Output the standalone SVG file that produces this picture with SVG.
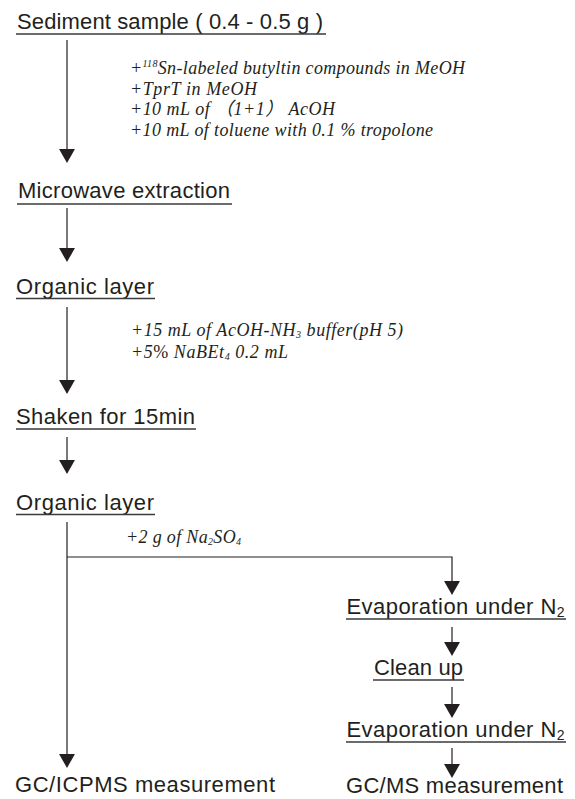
<svg xmlns="http://www.w3.org/2000/svg" width="575" height="799" viewBox="0 0 575 799">
<style>
.lbl{font-family:"Liberation Sans",Arial,sans-serif;font-size:22px;fill:#231f20}
.note{font-family:"Liberation Serif","Noto Sans CJK JP",serif;font-style:italic;font-size:18px;fill:#231f20}
.ul{stroke:#3a3a3a;stroke-width:1.3;fill:none}
.cn{stroke:#231f20;stroke-width:1.2;fill:none;marker-end:url(#ah)}
</style>
<defs>
<marker id="ah" viewBox="0 0 14.5 16.5" refX="12.5" refY="8.25" markerWidth="14.5" markerHeight="16.5" markerUnits="userSpaceOnUse" orient="auto">
<path d="M0,0 L14.5,8.25 L0,16.5 Z" fill="#231f20"/>
</marker>
</defs>
<rect width="575" height="799" fill="#ffffff"/>

<g id="connectors">
<line class="cn" x1="67" y1="40" x2="67" y2="161"/>
<line class="cn" x1="67" y1="208" x2="67" y2="260"/>
<line class="cn" x1="67" y1="307" x2="67" y2="392"/>
<line class="cn" x1="67" y1="437" x2="67" y2="472"/>
<line class="cn" x1="67" y1="522" x2="67" y2="766"/>
<path class="cn" d="M67,557 H452 V593"/>
<line class="cn" x1="452" y1="627" x2="452" y2="654"/>
<line class="cn" x1="452" y1="687" x2="452" y2="716"/>
<line class="cn" x1="452" y1="748" x2="452" y2="776"/>
</g>

<g id="notes">
<text class="note" x="130" y="74" textLength="335">+<tspan font-size="10" dy="-7">118</tspan><tspan dy="7">Sn-labeled butyltin compounds in MeOH</tspan></text>
<text class="note" x="130" y="94.5" textLength="127">+TprT in MeOH</text>
<text class="note" x="130" y="115" textLength="205">+10 mL of （1+1） AcOH</text>
<text class="note" x="130" y="136" textLength="303">+10 mL of toluene with 0.1 % tropolone</text>
<text class="note" x="131" y="336" textLength="272">+15 mL of AcOH-NH<tspan font-size="10" dy="2">3</tspan><tspan dx="5" dy="-2">buffer(pH 5)</tspan></text>
<text class="note" x="131" y="358" textLength="157">+5<tspan font-style="normal">%</tspan> NaBEt<tspan font-size="10" dy="2">4</tspan><tspan dy="-2"> 0.2 mL</tspan></text>
<text class="note" x="126" y="543" textLength="115">+2 g of Na<tspan font-size="10" dy="2">2</tspan><tspan dy="-2">SO</tspan><tspan font-size="10" dy="2">4</tspan></text>
</g>

<g id="n-sediment">
<text class="lbl" x="17" y="29" textLength="306">Sediment sample ( 0.4 - 0.5 g )</text>
<line class="ul" x1="16" y1="34" x2="326" y2="34"/>
</g>
<g id="n-microwave">
<text class="lbl" x="18" y="198" textLength="212">Microwave extraction</text>
<line class="ul" x1="17" y1="204" x2="232" y2="204"/>
</g>
<g id="n-organic1">
<text class="lbl" x="16" y="294" textLength="138">Organic layer</text>
<line class="ul" x1="16" y1="298.5" x2="155" y2="298.5"/>
</g>
<g id="n-shaken">
<text class="lbl" x="16" y="424" textLength="179">Shaken for 15min</text>
<line class="ul" x1="16" y1="429" x2="196" y2="429"/>
</g>
<g id="n-organic2">
<text class="lbl" x="16" y="510" textLength="138">Organic layer</text>
<line class="ul" x1="16" y1="514.5" x2="155" y2="514.5"/>
</g>
<g id="n-evap1">
<text class="lbl" x="346.5" y="614" textLength="218">Evaporation under N<tspan font-size="14" dy="3">2</tspan></text>
<line class="ul" x1="346" y1="619" x2="566" y2="619"/>
</g>
<g id="n-cleanup">
<text class="lbl" x="374" y="675" textLength="89">Clean up</text>
<line class="ul" x1="373" y1="680" x2="464" y2="680"/>
</g>
<g id="n-evap2">
<text class="lbl" x="346.5" y="737" textLength="218">Evaporation under N<tspan font-size="14" dy="3">2</tspan></text>
<line class="ul" x1="346" y1="742" x2="566" y2="742"/>
</g>
<g id="n-gcms">
<text class="lbl" x="346" y="793" textLength="217">GC/MS measurement</text>
</g>
<g id="n-gcicpms">
<text class="lbl" x="15" y="792" textLength="260">GC/ICPMS measurement</text>
</g>
</svg>
